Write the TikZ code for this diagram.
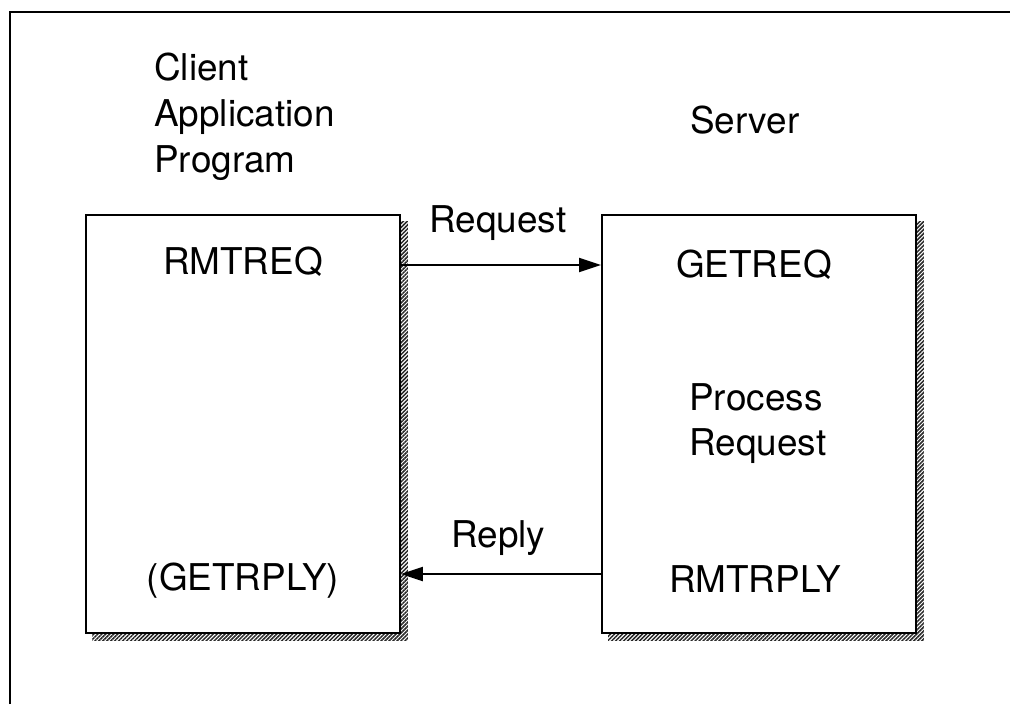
\documentclass[tikz,border=0pt]{standalone}
\usepackage{fontspec}
\setmainfont{TeX Gyre Heros}
\usetikzlibrary{arrows.meta,patterns.meta,backgrounds,positioning}
\begin{document}
\begin{tikzpicture}[x=0.02cm,y=-0.02cm,
    every node/.style={inner sep=0pt,font=\fontsize{21}{26}\selectfont},
    progbox/.style={draw=black,line width=1.1pt,fill=white,minimum width=6.28cm,minimum height=8.36cm,anchor=north west},
    hatch/.style={pattern={Lines[angle=45,distance=1.6pt,line width=0.85pt]},pattern color=black!85},
    msg/.style={line width=1.2pt,-{Triangle[length=0.44cm,width=0.28cm]}},
    lbl/.style={anchor=base west},
    call/.style={anchor=base}]
    \useasboundingbox (0,0) rectangle (1010,704);
    \draw [black,line width=1.3pt] (10,704) -- (10,12) -- (1010,12);
    \node [progbox] (client) at (85,214) {};
    \node [progbox] (server) at (601,214) {};
    \begin{pgfonlayer}{background}
    \path [hatch] ([shift={(7,7)}]client.north west) rectangle ([shift={(7,7)}]client.south east);
    \path [hatch] ([shift={(7,7)}]server.north west) rectangle ([shift={(7,7)}]server.south east);
    \end{pgfonlayer}
    \node [anchor=north west,align=left] (clienttitle) at (154,53) {Client\\Application\\Program};
    \node [lbl] (servertitle) at (690,133) {Server};
    \node [call] (rmtreq) at (243,274) {RMTREQ};
    \node [call] (getrply) at (243,590) {(GETRPLY)};
    \node [call] (getreq) at (754,277) {GETREQ};
    \node [anchor=north west,align=left] (process) at (689,383) {Process\\Request};
    \node [call] (rmtrply) at (755,592) {RMTRPLY};
    \node [lbl] (reqlbl) at (429,232) {Request};
    \node [lbl] (replylbl) at (451,547) {Reply};
    \coordinate (reqline) at (0,265);
    \coordinate (replyline) at (0,574);
    \draw [msg] (client.east |- reqline) -- (server.west |- reqline);
    \draw [msg] (server.west |- replyline) -- (client.east |- replyline);
\end{tikzpicture}
\end{document}
